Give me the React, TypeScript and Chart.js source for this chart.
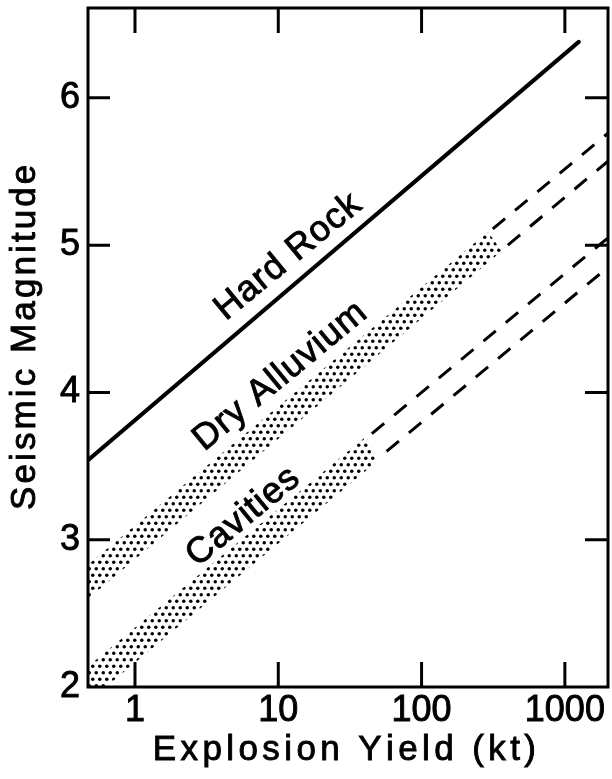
import React, { useEffect, useRef } from 'react';
import { Chart, registerables } from 'chart.js';

Chart.register(...registerables);

// ---- axes ----
const xTickValues = [1, 10, 100, 1000];
const xTickLabels = ['1', '10', '100', '1000'];
const yTickValues = [2, 3, 4, 5, 6];
const xRange = [0.47, 2000];
const yRange = [2, 6.61];

// ---- series (Explosion yield kt -> seismic magnitude) ----
const hardRockX = [0.47, 1250];
const hardRockY = [3.54, 6.38];

const alluviumBandUpperX = [0.47, 290];
const alluviumBandUpperY = [2.83, 5.09];
const alluviumBandLowerX = [0.47, 363];
const alluviumBandLowerY = [2.6, 4.96];
const alluviumDashUpperX = [314, 2000];
const alluviumDashUpperY = [5.11, 5.76];
const alluviumDashLowerX = [400, 2000];
const alluviumDashLowerY = [5.0, 5.57];

const cavitiesBandUpperX = [0.47, 41];
const cavitiesBandUpperY = [2.14, 3.7];
const cavitiesBandLowerX = [0.47, 50];
const cavitiesBandLowerY = [1.9, 3.54];
const cavitiesDashUpperX = [45, 2000];
const cavitiesDashUpperY = [3.72, 5.05];
const cavitiesDashLowerX = [57, 2000];
const cavitiesDashLowerY = [3.6, 4.85];

// ---- in-plot labels (anchor in data coords) ----
const labelTexts = ['Hard Rock', 'Dry Alluvium', 'Cavities'];
const labelAnchorX = [11.7, 10.3, 5.67];
const labelAnchorY = [4.92, 4.11, 3.155];

const xTitle = 'Explosion Yield (kt)';
const yTitle = 'Seismic Magnitude';

const FONT = '"Liberation Sans", Arial, sans-serif';

function pts(xs: number[], ys: number[]) {
  return xs.map((x, i) => ({ x, y: ys[i] }));
}

function polygon(ux: number[], uy: number[], lx: number[], ly: number[]) {
  return [...pts(ux, uy), ...pts(lx, ly).reverse()];
}

function drawSpaced(ctx: CanvasRenderingContext2D, text: string, cx: number, cy: number, spacing: number) {
  const chars = Array.from(text);
  const widths = chars.map((ch) => ctx.measureText(ch).width);
  const total = widths.reduce((a, b) => a + b, 0) + spacing * (chars.length - 1);
  let x = cx - total / 2;
  ctx.textAlign = 'left';
  chars.forEach((ch, i) => {
    ctx.fillText(ch, x, cy);
    ctx.strokeText(ch, x, cy);
    x += widths[i] + spacing;
  });
}

const framePlugin = {
  id: 'frameAndText',
  afterDraw(chart: any) {
    const { ctx, chartArea: a, scales } = chart;
    const xs = scales.x;
    const ys = scales.y;
    ctx.save();
    ctx.strokeStyle = '#000';
    ctx.fillStyle = '#000';
    ctx.lineWidth = 3;
    ctx.strokeRect(a.left, a.top, a.right - a.left, a.bottom - a.top);
    ctx.beginPath();
    xTickValues.forEach((v) => {
      const px = xs.getPixelForValue(v);
      ctx.moveTo(px, a.top);
      ctx.lineTo(px, a.top + 25);
      ctx.moveTo(px, a.bottom);
      ctx.lineTo(px, a.bottom - 25);
    });
    yTickValues.forEach((v) => {
      if (v === yRange[0]) return;
      const py = ys.getPixelForValue(v);
      ctx.moveTo(a.left, py);
      ctx.lineTo(a.left + 22, py);
      ctx.moveTo(a.right, py);
      ctx.lineTo(a.right - 23, py);
    });
    ctx.stroke();

    // in-plot labels
    ctx.font = `36px ${FONT}`;
    ctx.textBaseline = 'middle';
    ctx.lineWidth = 0.9;
    labelTexts.forEach((t, i) => {
      const px = xs.getPixelForValue(labelAnchorX[i]);
      const py = ys.getPixelForValue(labelAnchorY[i]);
      ctx.save();
      ctx.translate(px, py);
      ctx.rotate((-39.5 * Math.PI) / 180);
      drawSpaced(ctx, t, 0, 0, 1);
      ctx.restore();
    });

    // axis titles
    ctx.font = `35px ${FONT}`;
    ctx.textBaseline = 'alphabetic';
    drawSpaced(ctx, xTitle, a.left + (a.right - a.left) * 0.493, a.bottom + 73, 4.4);
    ctx.save();
    ctx.translate(35, a.top + (a.bottom - a.top) * 0.485);
    ctx.rotate(-Math.PI / 2);
    drawSpaced(ctx, yTitle, 0, 0, 3.1);
    ctx.restore();

    ctx.restore();
  },
};

export default function App() {
  const canvasRef = useRef<HTMLCanvasElement | null>(null);

  useEffect(() => {
    const canvas = canvasRef.current;
    if (!canvas) return;
    const ctx2d = canvas.getContext('2d')!;
    const tile = document.createElement('canvas');
    tile.width = 7;
    tile.height = 13;
    const tg = tile.getContext('2d')!;
    tg.fillStyle = '#000';
    [
      [1.75, 3.25],
      [5.25, 9.75],
    ].forEach(([cx, cy]) => {
      tg.beginPath();
      tg.arc(cx, cy, 1.75, 0, Math.PI * 2);
      tg.fill();
    });
    const dots = ctx2d.createPattern(tile, 'repeat') as CanvasPattern;

    const bandStyle = {
      showLine: true,
      fill: 'shape',
      backgroundColor: dots,
      borderColor: 'rgba(0,0,0,0)',
      borderWidth: 0,
      pointRadius: 0,
    };
    const dashStyle = {
      showLine: true,
      fill: false,
      borderColor: '#000',
      borderWidth: 3,
      borderDash: [16, 13],
      pointRadius: 0,
    };

    const tickFont = { family: FONT, size: 36 };

    const chart = new Chart(canvas, {
      type: 'scatter',
      data: {
        datasets: [
          { label: 'Dry Alluvium band', data: polygon(alluviumBandUpperX, alluviumBandUpperY, alluviumBandLowerX, alluviumBandLowerY), ...bandStyle } as any,
          { label: 'Cavities band', data: polygon(cavitiesBandUpperX, cavitiesBandUpperY, cavitiesBandLowerX, cavitiesBandLowerY), ...bandStyle } as any,
          {
            label: 'Hard Rock',
            data: pts(hardRockX, hardRockY),
            showLine: true,
            borderColor: '#000',
            borderWidth: 4,
            borderCapStyle: 'round',
            pointRadius: 0,
          } as any,
          { label: 'Dry Alluvium upper', data: pts(alluviumDashUpperX, alluviumDashUpperY), ...dashStyle } as any,
          { label: 'Dry Alluvium lower', data: pts(alluviumDashLowerX, alluviumDashLowerY), ...dashStyle } as any,
          { label: 'Cavities upper', data: pts(cavitiesDashUpperX, cavitiesDashUpperY), ...dashStyle } as any,
          { label: 'Cavities lower', data: pts(cavitiesDashLowerX, cavitiesDashLowerY), ...dashStyle } as any,
        ],
      },
      options: {
        animation: false,
        responsive: true,
        maintainAspectRatio: false,
        layout: { padding: { left: 0, top: 8, right: 4, bottom: 0 } },
        plugins: { legend: { display: false }, tooltip: { enabled: false } },
        scales: {
          x: {
            type: 'logarithmic',
            min: xRange[0],
            max: xRange[1],
            grid: { display: false, drawTicks: false },
            border: { display: false },
            ticks: {
              color: '#000',
              textStrokeColor: '#000',
              textStrokeWidth: 0.9,
              font: tickFont,
              padding: 2,
              autoSkip: false,
              maxRotation: 0,
              callback: (v: any) => {
                const i = xTickValues.indexOf(Number(v));
                return i >= 0 ? xTickLabels[i] : '';
              },
            },
            afterBuildTicks: (s: any) => {
              s.ticks = xTickValues.map((v) => ({ value: v }));
            },
            afterFit: (s: any) => {
              s.height = 92;
              s.paddingLeft = 0;
              s.paddingRight = 0;
            },
          },
          y: {
            type: 'linear',
            min: yRange[0],
            max: yRange[1],
            grid: { display: false, drawTicks: false },
            border: { display: false },
            ticks: {
              color: '#000',
              textStrokeColor: '#000',
              textStrokeWidth: 0.9,
              font: tickFont,
              padding: 8,
              callback: (v: any) => String(v),
            },
            afterBuildTicks: (s: any) => {
              s.ticks = yTickValues.map((v) => ({ value: v }));
            },
            afterFit: (s: any) => {
              s.width = 88;
              s.paddingTop = 0;
              s.paddingBottom = 0;
            },
          },
        },
      },
      plugins: [framePlugin],
    } as any);

    return () => chart.destroy();
  }, []);

  return (
    <div style={{ position: 'fixed', left: 0, top: 0, width: 612, height: 779, background: '#fff' }}>
      <canvas ref={canvasRef} />
    </div>
  );
}
